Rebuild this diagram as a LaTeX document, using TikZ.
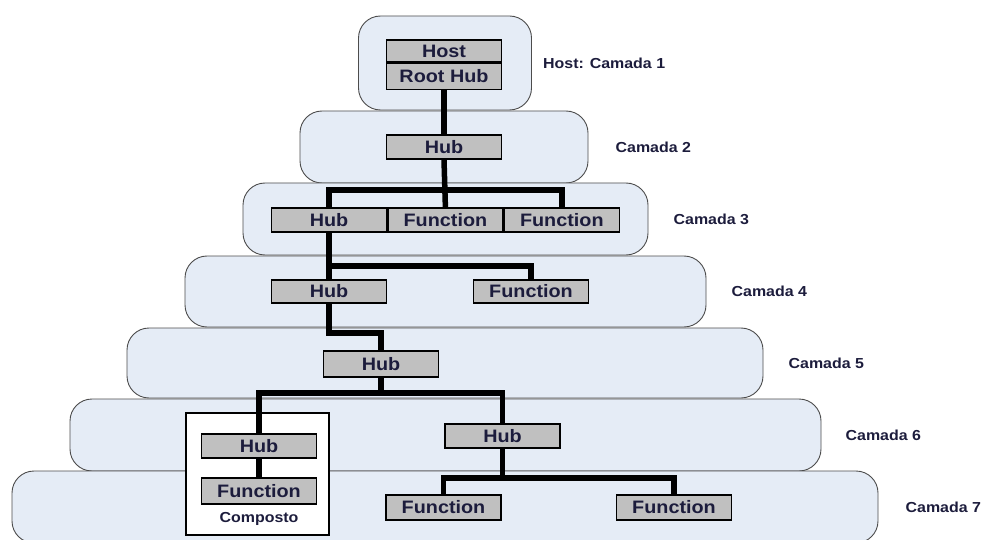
\documentclass[tikz,border=0pt]{standalone}
\usepackage{fontspec}
\setmainfont{Liberation Sans}[FakeStretch=1.1]
\usetikzlibrary{positioning}
\definecolor{layerfill}{HTML}{E5ECF6}
\definecolor{unitfill}{HTML}{C0C0C0}
\definecolor{ink}{HTML}{1C1C3C}

\begin{document}
\begin{tikzpicture}[x=1pt, y=-1pt, node distance=25pt,
  layer/.style={draw=black!70, line width=0.9pt, fill=layerfill, rounded corners=22pt, inner sep=0pt},
  unit/.style={draw, line width=1.4pt, fill=unitfill, minimum width=115pt, inner sep=0pt, text=ink, font=\bfseries\fontsize{18}{20}\selectfont},
  group/.style={draw, line width=1.2pt, fill=white, minimum width=143pt, minimum height=122pt, inner sep=0pt},
  lab/.style={inner sep=0pt, text=ink, font=\bfseries\fontsize{14.5}{17}\selectfont},
  link/.style={line width=5.5pt, line join=miter}]
  \useasboundingbox (0,0) rectangle (985,540);

  % camadas
  \node[layer, minimum width=173pt, minimum height=94pt] (lay1) at (445,63) {};
  \node[layer, minimum width=288pt, minimum height=72pt] (lay2) at (444,147) {};
  \node[layer, minimum width=405pt, minimum height=72pt] (lay3) at (445.5,219) {};
  \node[layer, minimum width=521pt, minimum height=71pt] (lay4) at (445.5,291.5) {};
  \node[layer, minimum width=636pt, minimum height=70pt] (lay5) at (445,363) {};
  \node[layer, minimum width=751pt, minimum height=72pt] (lay6) at (445.5,435) {};
  \node[layer, minimum width=866pt, minimum height=72pt] (lay7) at (445,507) {};

  \node[lab, right=11pt of lay1] (cam1) {Host: Camada 1};
  \node[lab, right=27pt of lay2] (cam2) {Camada 2};
  \node[lab, right=25pt of lay3] (cam3) {Camada 3};
  \node[lab, right=25pt of lay4] (cam4) {Camada 4};
  \node[lab, right=25pt of lay5] (cam5) {Camada 5};
  \node[lab, right=24pt of lay6] (cam6) {Camada 6};
  \node[lab, right=27pt of lay7] (cam7) {Camada 7};

  % dispositivo composto
  \node[group] (comp) at (257.5,474) {};
  \node[lab] (complab) at (259,519) {Composto};

  % hubs e funcoes
  \node[unit, minimum height=22pt] (host) at (444,51) {Host};
  \node[unit, minimum height=26pt, below=0pt of host] (roothub) {Root Hub};
  \node[unit, minimum height=24pt] (hub2) at (444,147) {Hub};
  \node[unit, minimum height=24pt] (hubA) at (329,220) {Hub};
  \node[unit, minimum height=24pt, right=0pt of hubA] (funA) {Function};
  \node[unit, minimum height=24pt, right=0pt of funA] (funB) {Function};
  \node[unit, minimum height=23pt] (hubB) at (329,291.5) {Hub};
  \node[unit, minimum height=23pt] (funC) at (531,291.5) {Function};
  \node[unit, minimum height=26pt] (hubC) at (381,364) {Hub};
  \node[unit, minimum height=24pt] (hubD) at (259,446) {Hub};
  \node[unit, minimum height=26pt] (funD) at (259,491) {Function};
  \node[unit, minimum height=24pt] (hubE) at (502.5,436) {Hub};
  \node[unit, minimum height=25pt] (funE) at (443.5,507.5) {Function};
  \node[unit, minimum height=25pt] (funF) at (674,507.5) {Function};

  % ligacoes
  \coordinate (bus3) at (444,190);
  \coordinate (bus4) at (329,266);
  \coordinate (bend5) at (381,333);
  \coordinate (bus6) at (381,393);
  \coordinate (bus7) at (502.5,478);
  \draw[link] (roothub.south) -- (hub2.north);
  \draw[link] (hub2.south) -- (funA.north);
  \draw[link] (hubA.north) |- (bus3) -| (funB.north);
  \draw[link] (hubA.south) -- (hubB.north);
  \draw[link] (bus4) -| (funC.north);
  \draw[link] (hubB.south) |- (bend5) -- (hubC.north);
  \draw[link] (hubC.south) -- (bus6);
  \draw[link] (hubD.north) |- (bus6) -| (hubE.north);
  \draw[link] (hubD.south) -- (funD.north);
  \draw[link] (hubE.south) -- (bus7);
  \draw[link] (funE.north) |- (bus7) -| (funF.north);
\end{tikzpicture}
\end{document}
